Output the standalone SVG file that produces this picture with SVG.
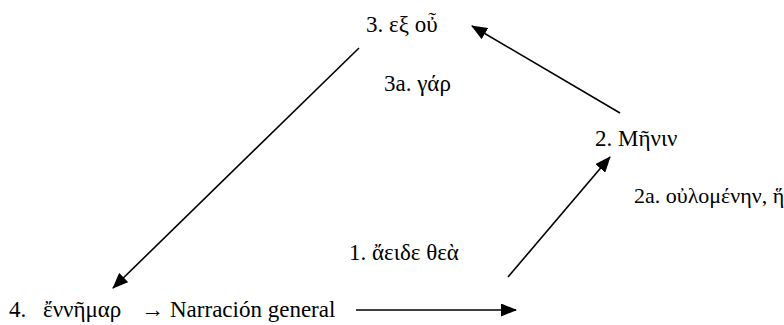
<svg xmlns="http://www.w3.org/2000/svg" width="784" height="325" viewBox="0 0 784 325">
<style>
text{font-family:'Liberation Serif','Times New Roman',serif;font-size:23px;fill:#000}
.c{stroke:#000;stroke-width:1.6;fill:none}
</style>
<defs>
<marker id="ah" markerWidth="16" markerHeight="13" refX="15" refY="6.5" orient="auto" markerUnits="userSpaceOnUse">
<path d="M0,0 L16,6.5 L0,13 Z" fill="#000"/>
</marker>
</defs>
<rect width="784" height="325" fill="#fff"/>
<g id="connectors">
<line class="c" x1="359" y1="48" x2="113" y2="288" marker-end="url(#ah)"/>
<line class="c" x1="620" y1="113" x2="472" y2="26" marker-end="url(#ah)"/>
<line class="c" x1="508" y1="277" x2="610" y2="157" marker-end="url(#ah)"/>
<line class="c" x1="356" y1="310" x2="516" y2="310" marker-end="url(#ah)"/>
</g>
<g font-family="'Liberation Serif','Times New Roman',serif">
<g id="n3"><text x="366" y="32">3. εξ οὖ</text></g>
<g id="n3a"><text x="384" y="91">3a. γάρ</text></g>
<g id="n2"><text x="595" y="146">2. Mῆνιν</text></g>
<g id="n2a"><text x="634" y="203" style="font-size:22px">2a. οὐλομένην, ἥ</text></g>
<g id="n1"><text x="349" y="260">1. ἄειδε θεὰ</text></g>
<g id="n4"><text x="9" y="317">4.</text><text x="43" y="317">ἔννῆμαρ</text><text x="141" y="317">→</text><text x="170" y="317">Narración general</text></g>
</g>
</svg>
